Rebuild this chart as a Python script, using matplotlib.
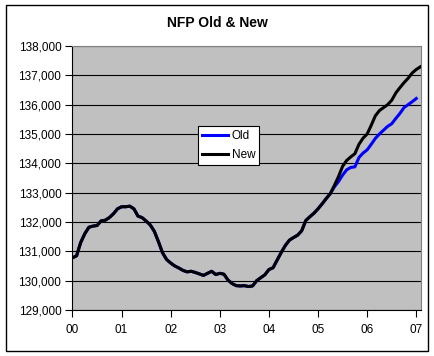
import numpy as np
import matplotlib
matplotlib.use("Agg")
import matplotlib.pyplot as plt
from matplotlib.patches import Rectangle
from matplotlib.ticker import FuncFormatter

# monthly values, Jan 2000 onwards (thousands of jobs)
new_2000 = [130780, 130850, 131300, 131600, 131820, 131860, 131880, 132040, 132060, 132150, 132280, 132450]
new_2001 = [132520, 132520, 132540, 132450, 132200, 132150, 132030, 131900, 131680, 131330, 130950, 130720]
new_2002 = [130600, 130500, 130430, 130350, 130300, 130320, 130280, 130230, 130180, 130250, 130320, 130210]
new_2003 = [130250, 130220, 130020, 129900, 129830, 129820, 129830, 129800, 129820, 130000, 130100, 130200]
new_2004 = [130380, 130440, 130700, 130960, 131200, 131380, 131470, 131550, 131700, 132050, 132180, 132300]
new_2005 = [132450, 132620, 132800, 132970, 133250, 133550, 133900, 134100, 134220, 134330, 134650, 134860]
new_2006 = [135000, 135300, 135620, 135800, 135900, 136000, 136150, 136400, 136580, 136750, 136900, 137080]
new_2007 = [137200, 137290]

# old series follows the new one until spring 2005
old_tail = [133200, 133380, 133600, 133780, 133860, 133880, 134200, 134350,
            134460, 134650, 134850, 135000, 135130, 135260, 135350, 135530,
            135700, 135900, 136000, 136100, 136210]

new_vals = new_2000 + new_2001 + new_2002 + new_2003 + new_2004 + new_2005 + new_2006 + new_2007
n_shared = 64
old_vals = new_vals[:n_shared] + old_tail

x_new = np.arange(len(new_vals)) / 12
x_old = np.arange(len(old_vals)) / 12

year_labels = ["00", "01", "02", "03", "04", "05", "06", "07"]

plt.rcParams['font.family'] = ['Liberation Sans', 'DejaVu Sans']

fig = plt.figure(figsize=(4.35, 3.56), dpi=100)
ax = fig.add_axes([72.5 / 435, 1 - 310 / 356, (420.7 - 72.5) / 435, (310 - 46) / 356])
ax.set_facecolor("#C0C0C0")

ax.plot(x_old, old_vals, color="#0000FF", lw=2.2, label="Old", zorder=3)
ax.plot(x_new, new_vals, color="black", lw=2.2, label="New", zorder=4)

ax.set_xlim(0, 7.09)
ax.set_ylim(129000, 138000)
ax.set_xticks(range(8))
ax.set_xticklabels(year_labels)
ax.set_yticks(np.arange(129000, 138001, 1000))
ax.yaxis.set_major_formatter(FuncFormatter(lambda v, p: f"{int(v):,}"))
ax.tick_params(direction="out", length=5, width=0.8, labelsize=8.5, pad=3)
ax.tick_params(axis="x", pad=5)
ax.grid(axis="y", color="black", lw=0.8)
ax.set_axisbelow(True)

for s in ["top", "right"]:
    ax.spines[s].set_color("#808080")
for s in ["left", "bottom"]:
    ax.spines[s].set_color("black")
    ax.spines[s].set_linewidth(0.8)

fig.text(0.5, 1 - 23 / 356, "NFP Old & New", ha="center", va="center",
         fontsize=10, fontweight="bold")

leg = ax.legend(loc="upper left", bbox_to_anchor=((198 - 72.5) / 348.2, (310 - 126) / 264),
                fontsize=8.5, frameon=True, fancybox=False, framealpha=1,
                edgecolor="black", handlelength=2.2, handletextpad=0.3,
                borderpad=0.35, labelspacing=0.6, borderaxespad=0)
leg.get_frame().set_linewidth(0.8)

fig.patches.append(Rectangle((6 / 435, 1 - 351 / 356), 422 / 435, 346 / 356,
                             transform=fig.transFigure, fill=False,
                             edgecolor="black", lw=1))

fig.savefig("out.png", dpi=100)
